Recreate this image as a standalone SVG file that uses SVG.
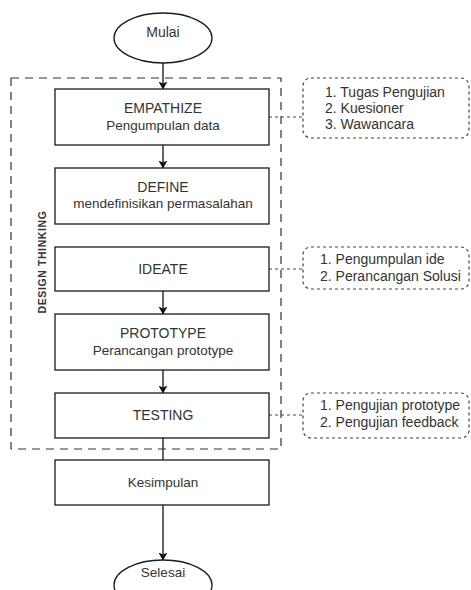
<svg xmlns="http://www.w3.org/2000/svg" width="471" height="590" viewBox="0 0 471 590">
<style>
.n{fill:#fff;stroke:#1a1a1a;stroke-width:1.3}
.t{font-family:"Liberation Sans",Arial,sans-serif;font-size:14px;fill:#333;text-anchor:middle}
.t2{font-family:"Liberation Sans",Arial,sans-serif;font-size:13.5px;fill:#333;text-anchor:middle}
.s{font-family:"Liberation Sans",Arial,sans-serif;font-size:14px;fill:#333}
.side{fill:#fff;stroke:#444;stroke-width:1.2;stroke-dasharray:3 3}
.c{stroke:#111;stroke-width:1.3;fill:none}
.d{stroke:#444;stroke-width:1.2;stroke-dasharray:3 3;fill:none}
</style>
<defs>
<marker id="ah" markerWidth="8" markerHeight="9" refX="7.5" refY="4.5" orient="auto" markerUnits="userSpaceOnUse">
<path d="M0,0 L8,4.5 L0,9 L2,4.5 Z" fill="#111"/>
</marker>
</defs>
<g id="design-thinking">
<rect x="11" y="78" width="270" height="371" fill="none" stroke="#333" stroke-width="1.2" stroke-dasharray="8 6"/>
<text x="0" y="0" transform="translate(46,262) rotate(-90)" style="font-family:'Liberation Sans',Arial,sans-serif;font-size:10.5px;font-weight:bold;fill:#333;text-anchor:middle;letter-spacing:0.6px">DESIGN THINKING</text>
</g>
<g id="connectors">
<line class="c" x1="163" y1="63" x2="163" y2="89" marker-end="url(#ah)"/>
<line class="c" x1="163" y1="145" x2="163" y2="168" marker-end="url(#ah)"/>
<line class="c" x1="163" y1="291" x2="163" y2="314" marker-end="url(#ah)"/>
<line class="c" x1="163" y1="370" x2="163" y2="393" marker-end="url(#ah)"/>
<line class="c" x1="163" y1="438" x2="163" y2="460"/>
<line class="c" x1="163" y1="505" x2="163" y2="560" marker-end="url(#ah)"/>
<line class="d" x1="269" y1="117" x2="303" y2="117"/>
<line class="d" x1="269" y1="269" x2="303" y2="269"/>
<line class="d" x1="269" y1="415" x2="303" y2="415"/>
</g>
<g id="mulai">
<ellipse class="n" cx="163" cy="38" rx="49" ry="25"/>
<text class="t" x="163" y="37">Mulai</text>
</g>
<g id="empathize">
<rect class="n" x="55" y="89" width="214" height="56"/>
<text class="t" x="163" y="113">EMPATHIZE</text>
<text class="t2" x="163" y="130">Pengumpulan data</text>
</g>
<g id="define">
<rect class="n" x="55" y="168" width="214" height="56"/>
<text class="t" x="163" y="192">DEFINE</text>
<text class="t2" x="163" y="208">mendefinisikan permasalahan</text>
</g>
<g id="ideate">
<rect class="n" x="55" y="247" width="214" height="44"/>
<text class="t" x="163" y="274">IDEATE</text>
</g>
<g id="prototype">
<rect class="n" x="55" y="314" width="214" height="56"/>
<text class="t" x="163" y="338">PROTOTYPE</text>
<text class="t2" x="163" y="355">Perancangan prototype</text>
</g>
<g id="testing">
<rect class="n" x="55" y="393" width="214" height="45"/>
<text class="t" x="163" y="420">TESTING</text>
</g>
<g id="kesimpulan">
<rect class="n" x="55" y="460" width="214" height="45"/>
<text class="t2" x="163" y="487">Kesimpulan</text>
</g>
<g id="selesai">
<ellipse class="n" cx="163" cy="585" rx="49" ry="25"/>
<text class="t2" x="163" y="577">Selesai</text>
</g>
<g id="note-empathize">
<rect class="side" x="303" y="78" width="166" height="60" rx="8" ry="8"/>
<text class="s" x="325" y="97">1. Tugas Pengujian</text>
<text class="s" x="325" y="113">2. Kuesioner</text>
<text class="s" x="325" y="129">3. Wawancara</text>
</g>
<g id="note-ideate">
<rect class="side" x="303" y="247" width="166" height="42" rx="8" ry="8"/>
<text class="s" x="320" y="264">1. Pengumpulan ide</text>
<text class="s" x="320" y="281">2. Perancangan Solusi</text>
</g>
<g id="note-testing">
<rect class="side" x="303" y="393" width="166" height="45" rx="8" ry="8"/>
<text class="s" x="320" y="410">1. Pengujian prototype</text>
<text class="s" x="320" y="427">2. Pengujian feedback</text>
</g>
</svg>
